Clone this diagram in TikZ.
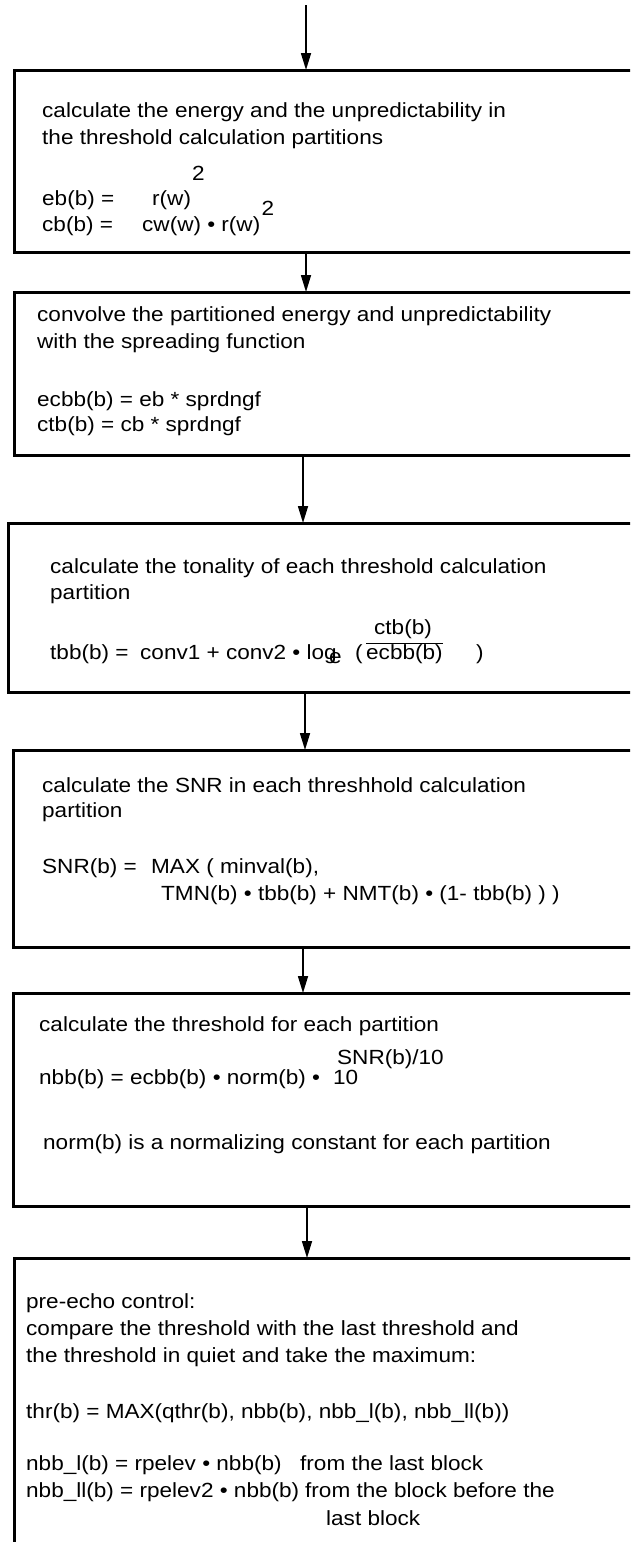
\documentclass[tikz,border=0pt]{standalone}
\usepackage{fontspec}
\setmainfont{Liberation Sans}[FakeStretch=1.1]
\usetikzlibrary{arrows.meta}
\begin{document}
\begin{tikzpicture}[x=1pt,y=-1pt,
  box/.style={draw, line width=3pt, inner sep=0pt, outer sep=0pt, anchor=north west, minimum width=700pt},
  arr/.style={line width=1.6pt, -{Triangle[length=17pt,width=10pt]}},
  txt/.style={anchor=base west, inner sep=0pt, font=\fontsize{20.5}{24}\selectfont}]
\useasboundingbox (0,0) rectangle (630,1542);
\clip (0,0) rectangle (630,1542);
% boxes
\node[box, minimum height=182pt] (box1) at (14,70) {};
\node[box, minimum height=163pt] (box2) at (14,292) {};
\node[box, minimum height=169pt] (box3) at (8,523) {};
\node[box, minimum height=197pt] (box4) at (13,750) {};
\node[box, minimum height=213pt] (box5) at (13,993) {};
\node[box, minimum height=400pt] (box6) at (14,1258) {};
% arrow x positions
\coordinate (start) at (306,5);
\coordinate (ax2) at (306,0);
\coordinate (ax3) at (303,0);
\coordinate (ax4) at (305,0);
\coordinate (ax5) at (303,0);
\coordinate (ax6) at (307,0);
\draw[arr] (start) -- (start |- box1.north);
\draw[arr] (box1.south -| ax2) -- (box2.north -| ax2);
\draw[arr] (box2.south -| ax3) -- (box3.north -| ax3);
\draw[arr] (box3.south -| ax4) -- (box4.north -| ax4);
\draw[arr] (box4.south -| ax5) -- (box5.north -| ax5);
\draw[arr] (box5.south -| ax6) -- (box6.north -| ax6);
% box 1 text
\node[txt] (t11) at (42,117) {calculate the energy and the unpredictability in};
\node[txt] (t12) at (42,144) {the threshold calculation partitions};
\node[txt] (t13a) at (192,180) {2};
\node[txt] (t14a) at (42,205) {eb(b) =};
\node[txt] (t14b) at (152,205) {r(w)};
\node[txt] (t16a) at (42,231) {cb(b) =};
\node[txt] (t16b) at (142,231) {cw(w) • r(w)};
\coordinate (sup2) at (0,215);
\node[txt] (t15a) at ([xshift=1pt]t16b.east |- sup2) {2};
% box 2 text
\node[txt] (t21) at (37,321) {convolve the partitioned energy and unpredictability};
\node[txt] (t22) at (37,348) {with the spreading function};
\node[txt] (t23) at (37,406) {ecbb(b) = eb * sprdngf};
\node[txt] (t24) at (37,431) {ctb(b) = cb * sprdngf};
% box 3 text
\node[txt] (t31) at (50,573) {calculate the tonality of each threshold calculation};
\node[txt] (t32) at (50,599) {partition};
\node[txt] (t33) at (374,634) {ctb(b)};
\node[txt] (t34a) at (50,659) {tbb(b) =};
\node[txt] (t34b) at (140,659) {conv1 + conv2 • log};
\node[txt] (t34c) at (329,663) {e};
\node[txt] (t34d) at (355,659) {(};
\node[txt] (t34e) at (366,659) {ecbb(b)};
\node[txt] (t34f) at (476,659) {)};
\draw[line width=1.2pt] ([yshift=0.8pt]t34e.north west) -- ([yshift=0.8pt]t34e.north east);
% box 4 text
\node[txt] (t41) at (42,792) {calculate the SNR in each threshhold calculation};
\node[txt] (t42) at (42,817) {partition};
\node[txt] (t43a) at (42,873) {SNR(b) =};
\node[txt] (t43b) at (151,873) {MAX ( minval(b),};
\node[txt] (t44) at (161,900) {TMN(b) • tbb(b) + NMT(b) • (1- tbb(b) ) )};
% box 5 text
\node[txt] (t51) at (39,1031) {calculate the threshold for each partition};
\node[txt] (t52) at (337,1064) {SNR(b)/10};
\node[txt] (t53a) at (39,1084) {nbb(b) = ecbb(b) • norm(b) •};
\node[txt] (t53b) at (333,1084) {10};
\node[txt] (t54) at (43,1149) {norm(b) is a normalizing constant for each partition};
% box 6 text
\node[txt] (t61) at (26,1308) {pre-echo control:};
\node[txt] (t62) at (26,1335) {compare the threshold with the last threshold and};
\node[txt] (t63) at (26,1362) {the threshold in quiet and take the maximum:};
\node[txt] (t64) at (26,1418) {thr(b) = MAX(qthr(b), nbb(b), nbb\_l(b), nbb\_ll(b))};
\node[txt] (t65a) at (26,1470) {nbb\_l(b) = rpelev • nbb(b)};
\node[txt] (t65b) at (300,1470) {from the last block};
\node[txt] (t66a) at (26,1497) {nbb\_ll(b) = rpelev2 • nbb(b)};
\node[txt] (t66b) at (305,1497) {from the block before the};
\node[txt] (t67) at (326,1525) {last block};
\end{tikzpicture}
\end{document}
